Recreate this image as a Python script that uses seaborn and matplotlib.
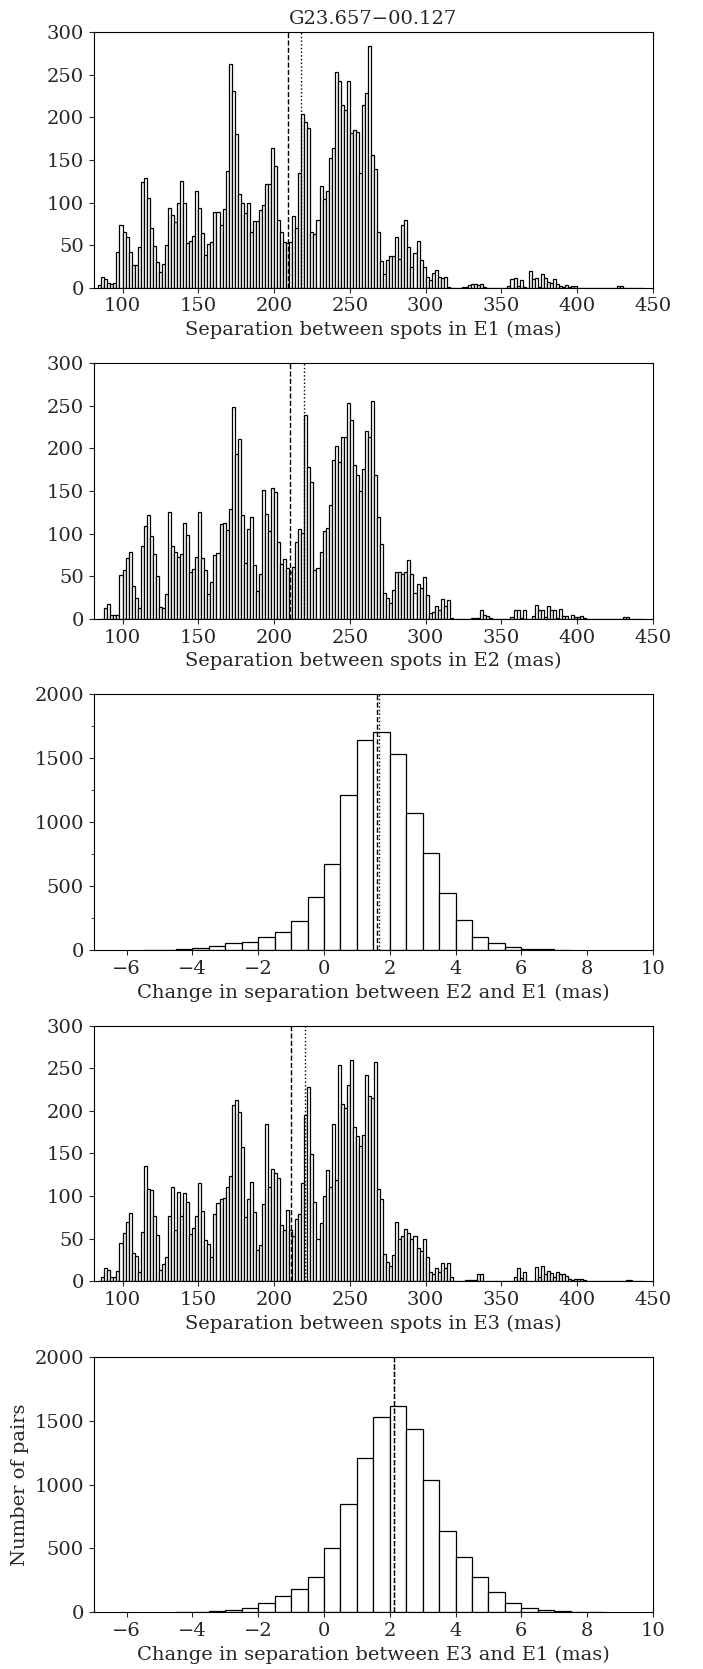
import numpy as np
import pandas as pd
import matplotlib
matplotlib.use("Agg")
import matplotlib.pyplot as plt
from matplotlib.ticker import MultipleLocator
import seaborn as sns

# separation histograms: 2 mas bins starting at 84 mas
sep_start = 84
sep_width = 2
sep_e1 = [3, 13, 10, 6, 5, 6, 42, 74, 66, 59,
          42, 27, 27, 48, 124, 129, 105, 70, 49, 30,
          19, 28, 50, 93, 85, 77, 100, 125, 99, 52,
          55, 61, 114, 93, 64, 39, 51, 54, 89, 89,
          74, 92, 137, 262, 231, 180, 110, 99, 88, 100,
          66, 78, 78, 91, 97, 122, 122, 164, 143, 80,
          66, 54, 52, 54, 84, 70, 135, 204, 194, 187,
          66, 63, 80, 119, 104, 114, 152, 164, 253, 242,
          214, 209, 242, 181, 185, 183, 135, 215, 229, 284,
          156, 139, 66, 31, 16, 33, 37, 37, 59, 34,
          74, 80, 48, 24, 41, 55, 32, 24, 13, 9,
          17, 21, 13, 11, 13, 1, 0, 0, 0, 0,
          1, 1, 3, 5, 4, 3, 5, 1, 0, 0,
          0, 0, 0, 0, 0, 2, 10, 11, 2, 9,
          1, 0, 20, 10, 11, 1, 16, 11, 7, 6,
          10, 5, 2, 1, 3, 1, 2, 2, 0, 0,
          0, 0, 0, 0, 0, 0, 0, 0, 0, 0,
          0, 2, 2, 0, 0, 0, 0, 0, 0, 0]
sep_e2 = [0, 0, 13, 17, 5, 5, 5, 52, 57, 71,
          79, 39, 25, 13, 85, 109, 122, 97, 76, 50,
          14, 13, 29, 125, 86, 78, 73, 76, 113, 98,
          55, 59, 73, 125, 71, 57, 29, 43, 75, 77,
          111, 113, 104, 129, 249, 193, 211, 122, 66, 105,
          120, 63, 33, 53, 151, 123, 103, 154, 149, 90,
          65, 70, 60, 55, 61, 90, 106, 101, 239, 178,
          161, 57, 60, 79, 103, 107, 134, 187, 203, 184,
          214, 214, 253, 233, 180, 169, 150, 176, 221, 213,
          256, 169, 120, 88, 30, 24, 19, 34, 55, 55,
          53, 55, 69, 53, 31, 41, 36, 49, 28, 7,
          8, 15, 11, 23, 15, 22, 1, 0, 0, 0,
          0, 0, 0, 1, 1, 1, 10, 5, 3, 1,
          0, 0, 0, 0, 0, 0, 2, 10, 11, 1,
          11, 0, 0, 4, 16, 10, 11, 2, 15, 11,
          10, 1, 12, 3, 4, 0, 5, 2, 2, 3,
          1, 0, 0, 0, 0, 0, 0, 0, 0, 0,
          0, 0, 0, 2, 2, 0, 0, 0, 0, 0]
sep_e3 = [0, 5, 15, 13, 5, 5, 12, 45, 57, 69,
          80, 33, 30, 11, 58, 135, 108, 107, 77, 54,
          13, 20, 28, 77, 111, 60, 105, 76, 103, 93,
          55, 63, 77, 115, 82, 48, 44, 28, 79, 92,
          96, 98, 110, 124, 207, 213, 198, 158, 75, 96,
          116, 81, 37, 42, 91, 185, 110, 132, 127, 121,
          66, 60, 84, 60, 53, 73, 79, 115, 195, 228,
          149, 93, 50, 68, 100, 131, 110, 185, 119, 254,
          208, 203, 230, 260, 181, 170, 159, 171, 242, 217,
          215, 257, 108, 96, 32, 23, 18, 31, 70, 50,
          53, 61, 57, 50, 53, 39, 35, 49, 28, 11,
          8, 15, 11, 22, 15, 21, 5, 0, 0, 0,
          0, 1, 1, 1, 2, 8, 9, 0, 0, 0,
          0, 0, 0, 0, 0, 0, 0, 5, 16, 4,
          11, 0, 0, 0, 17, 5, 18, 8, 12, 10,
          5, 11, 9, 9, 6, 3, 2, 3, 3, 3,
          1, 0, 0, 0, 0, 0, 0, 0, 0, 0,
          0, 0, 0, 0, 2, 2, 0, 0, 0, 0]

# change in separation: 0.5 mas bins
diff_width = 0.5
diff_start_21 = -5.5
diff_21 = [2, 2, 10, 18, 34, 55, 63, 105, 142, 228, 414, 676, 1211,
           1646, 1706, 1531, 1075, 757, 446, 233, 102, 52, 21, 10, 5, 2]
diff_start_31 = -4.5
diff_31 = [2, 5, 13, 18, 34, 71, 128, 186, 277, 502, 847, 1205, 1532,
           1616, 1438, 1038, 633, 434, 280, 157, 71, 34, 18, 10, 4, 1]

# median (dashed) and mean (dotted) markers
med_sep = [209, 210.8, 211]
mean_sep = [218, 219.8, 220.3]
med_diff = [1.6, 2.12]
mean_diff = [1.68, 2.14]

sep_labels = ["Separation between spots in E1 (mas)",
              "Separation between spots in E2 (mas)",
              "Separation between spots in E3 (mas)"]
diff_labels = ["Change in separation between E2 and E1 (mas)",
               "Change in separation between E3 and E1 (mas)"]

sns.set_style("ticks")
plt.rcParams['font.family'] = ['DejaVu Serif']
plt.rcParams['font.size'] = 14


def draw_hist(ax, counts, start, width):
    counts = np.array(counts, dtype=float)
    edges = start + width * np.arange(len(counts) + 1)
    df = pd.DataFrame({"x": edges[:-1] + width / 2, "n": counts})
    sns.histplot(data=df, x="x", weights="n", bins=list(edges), ax=ax,
                 color="white", edgecolor="black", linewidth=0.9, alpha=1)


fig, axes = plt.subplots(5, 1, figsize=(7.03, 16.69), dpi=100)
fig.subplots_adjust(left=0.1333, right=0.9288, bottom=0.0339, top=0.9808,
                    hspace=0.295)

sep_axes = [axes[0], axes[1], axes[3]]
for i, (ax, cnt) in enumerate(zip(sep_axes, [sep_e1, sep_e2, sep_e3])):
    draw_hist(ax, cnt, sep_start, sep_width)
    ax.axvline(med_sep[i], color="black", ls="--", lw=1)
    ax.axvline(mean_sep[i], color="black", ls=":", lw=1)
    ax.set_xlim(81, 450)
    ax.set_ylim(0, 300)
    ax.set_xticks(np.arange(100, 451, 50))
    ax.set_yticks(np.arange(0, 301, 50))
    ax.set_xlabel(sep_labels[i])
    ax.set_ylabel("")

diff_axes = [axes[2], axes[4]]
for i, (ax, cnt, st) in enumerate(zip(diff_axes, [diff_21, diff_31],
                                      [diff_start_21, diff_start_31])):
    draw_hist(ax, cnt, st, diff_width)
    ax.axvline(med_diff[i], color="black", ls="--", lw=1)
    ax.axvline(mean_diff[i], color="black", ls=":", lw=1)
    ax.set_xlim(-7, 10)
    ax.set_ylim(0, 2000)
    ax.set_xticks(np.arange(-6, 11, 2))
    ax.set_yticks(np.arange(0, 2001, 500))
    ax.set_xlabel(diff_labels[i])
    ax.set_ylabel("")

axes[2].yaxis.set_minor_locator(MultipleLocator(250))
axes[4].set_ylabel("Number of pairs")
axes[0].set_title("G23.657\u221200.127", fontsize=14)

for ax in axes:
    ax.tick_params(labelsize=14)
    for s in ax.spines.values():
        s.set_color("black")

fig.savefig("out.png", dpi=100)
